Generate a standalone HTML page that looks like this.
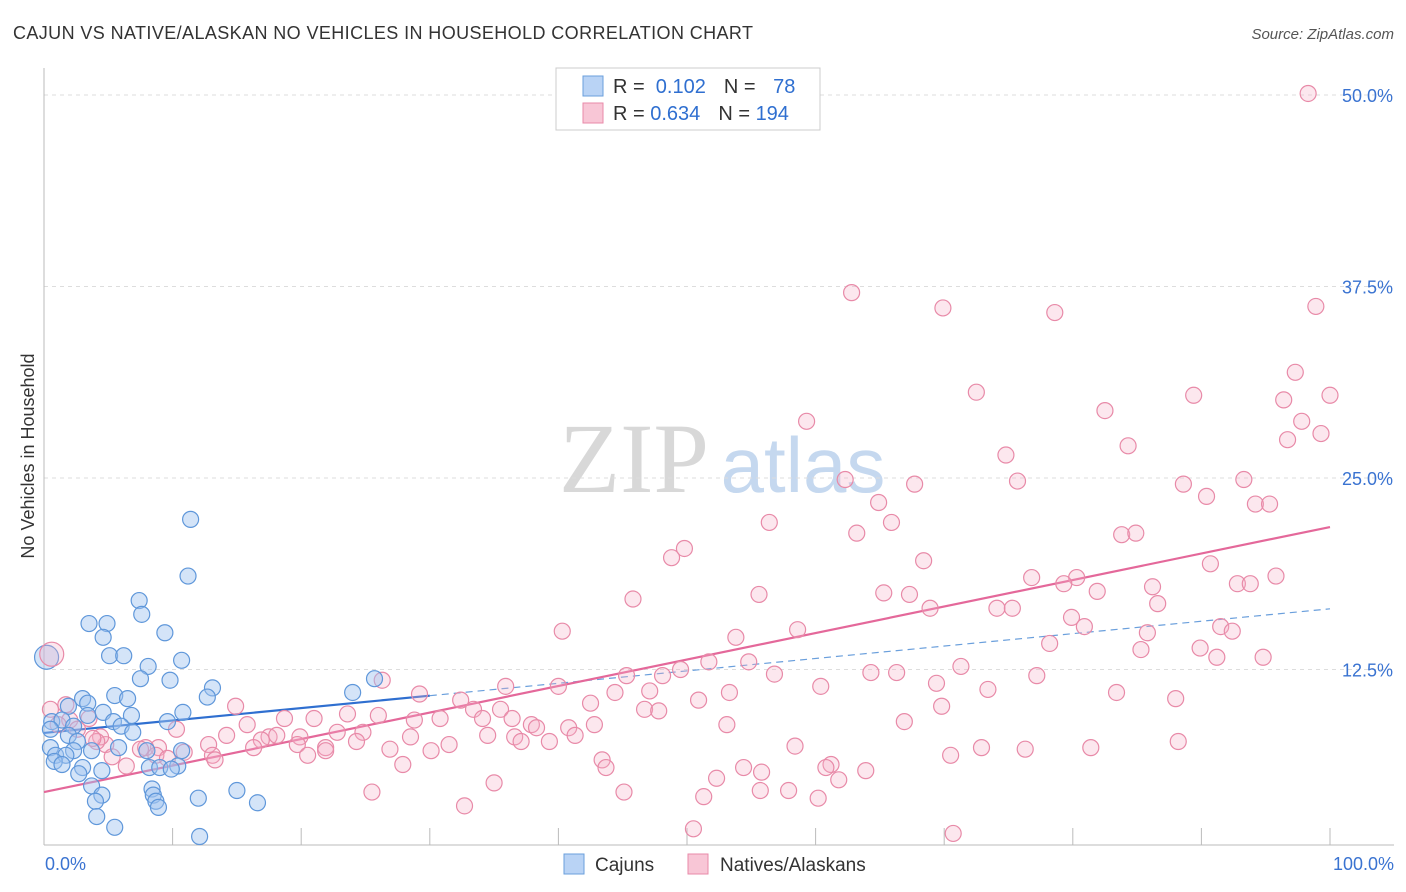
<!DOCTYPE html>
<html><head><meta charset="utf-8">
<style>
body{margin:0;background:#fff;font-family:"Liberation Sans",sans-serif;}
#wrap{position:relative;width:1406px;height:892px;overflow:hidden;}
</style></head>
<body>
<div id="wrap">
<svg id="svg" width="1406" height="892" xmlns="http://www.w3.org/2000/svg">
<text x="13" y="39" font-size="18" fill="#333" textLength="740">CAJUN VS NATIVE/ALASKAN NO VEHICLES IN HOUSEHOLD CORRELATION CHART</text>
<text x="1394" y="39" font-size="15" fill="#555" font-style="italic" text-anchor="end">Source: ZipAtlas.com</text>
<text x="34" y="456" font-size="18" fill="#333" text-anchor="middle" transform="rotate(-90 34 456)">No Vehicles in Household</text>
<g>
<text x="634" y="492" font-size="100" fill="#d8d8d8" font-family="Liberation Serif,serif" text-anchor="middle">ZIP</text>
<text x="803" y="492" font-size="78" fill="#c5d8ef" text-anchor="middle">atlas</text>
</g>
<g id="grid"></g>
<g id="lines"></g>
<g id="pts"></g>
<g>
<rect x="556" y="68" width="264" height="62" fill="#fff" stroke="#ccc"/>
<rect x="583" y="76" width="20" height="20" fill="#b9d3f5" stroke="#6a9fdc"/>
<rect x="583" y="103" width="20" height="20" fill="#f8c6d6" stroke="#e88aa8"/>
<text x="613" y="93" font-size="20" fill="#333">R = <tspan fill="#2f6fd0">&#160;0.102</tspan><tspan dx="18">N = </tspan><tspan fill="#2f6fd0" dx="12">78</tspan></text>
<text x="613" y="120" font-size="20" fill="#333">R = <tspan fill="#2f6fd0">0.634</tspan><tspan dx="18">N = </tspan><tspan fill="#2f6fd0">194</tspan></text>
</g>
<g>
<rect x="564" y="854" width="20" height="20" fill="#b9d3f5" stroke="#6a9fdc"/>
<text x="595" y="871" font-size="19" fill="#333">Cajuns</text>
<rect x="688" y="854" width="20" height="20" fill="#f8c6d6" stroke="#e88aa8"/>
<text x="720" y="871" font-size="19" fill="#333">Natives/Alaskans</text>
</g>
</svg>
</div>
<script>
const yTicks=[12.5,25.0,37.5,50.0];
const xTickLabels=["0.0%","100.0%"];
const blueX=[11.4,11.2,7.4,7.6,3.5,4.9,4.6,9.4,5.1,6.2,10.7,8.1,7.5,9.8,25.7,13.1,24.0,12.7,5.5,6.5,3.0,3.4,1.9,10.8,4.6,6.8,3.4,0.6,1.4,5.4,9.6,6.0,2.3,0.5,6.9,1.9,2.6,5.8,3.7,0.5,10.7,8.0,2.3,0.9,1.7,0.8,1.4,3.0,10.4,8.2,9.0,9.9,4.5,2.7,3.7,8.4,8.5,4.5,15.0,12.0,16.6,4.0,8.7,8.9,4.1,5.5,12.1];
const blueY=[22.3,18.6,17.0,16.1,15.5,15.5,14.6,14.9,13.4,13.4,13.1,12.7,11.9,11.8,11.9,11.3,11.0,10.7,10.8,10.6,10.6,10.3,10.1,9.7,9.7,9.5,9.5,9.1,9.2,9.1,9.1,8.8,8.8,8.6,8.4,8.2,7.8,7.4,7.2,7.4,7.2,7.2,7.2,6.9,6.9,6.5,6.3,6.1,6.2,6.1,6.1,6.0,5.9,5.7,4.9,4.7,4.3,4.3,4.6,4.1,3.8,3.9,3.9,3.5,2.9,2.2,1.6];
const pinkX=[98.3,62.8,69.9,78.6,98.9,72.5,97.3,89.4,96.4,100,59.3,82.5,97.8,84.3,96.7,99.3,74.8,62.3,67.7,75.7,88.6,93.3,64.9,90.4,94.2,95.3,56.4,65.9,63.2,83.8,84.9,49.8,48.8,68.4,90.7,76.8,80.3,95.8,79.3,86.2,92.8,93.8,45.8,55.6,65.3,67.3,81.9,86.6,68.9,74.1,75.3,79.9,80.9,91.5,92.4,40.3,58.6,53.8,85.8,78.2,85.3,89.9,91.2,94.8,51.7,54.8,71.3,26.3,45.3,48.1,49.5,56.8,64.3,66.3,77.2,69.4,60.4,35.9,40.0,47.1,29.2,44.4,73.4,53.3,83.4,88.0,32.4,42.5,50.9,69.8,46.7,14.9,35.5,47.8,33.4,23.6,26.0,18.7,21.0,30.8,34.1,36.4,15.8,28.8,37.9,42.8,53.1,66.9,38.3,40.8,34.5,19.9,22.8,24.8,28.5,36.6,37.1,41.3,14.2,17.5,18.1,16.9,39.3,24.3,10.3,4.8,4.4,12.8,19.7,21.9,31.5,30.1,26.9,21.9,20.5,16.3,13.1,8.9,7.9,7.5,58.4,72.9,76.3,81.4,88.2,70.5,10.9,8.7,9.6,13.3,6.4,27.9,43.4,43.7,61.2,60.8,54.4,55.8,52.3,61.8,63.9,35.0,25.5,45.1,55.7,57.9,51.3,60.2,32.7,50.5,70.7,4.1,5.3,3.5,2.0,0.5,1.1,2.6,3.8,1.7];
const pinkY=[50.1,37.1,36.1,35.8,36.2,30.6,31.9,30.4,30.1,30.4,28.7,29.4,28.7,27.1,27.5,27.9,26.5,24.9,24.6,24.8,24.6,24.9,23.4,23.8,23.3,23.3,22.1,22.1,21.4,21.3,21.4,20.4,19.8,19.6,19.4,18.5,18.5,18.6,18.1,17.9,18.1,18.1,17.1,17.4,17.5,17.4,17.6,16.8,16.5,16.5,16.5,15.9,15.3,15.3,15.0,15.0,15.1,14.6,14.9,14.2,13.8,13.9,13.3,13.3,13.0,13.0,12.7,11.8,12.1,12.1,12.5,12.2,12.3,12.3,12.1,11.6,11.4,11.4,11.4,11.1,10.9,11.0,11.2,11.0,11.0,10.6,10.5,10.3,10.5,10.1,9.9,10.1,9.9,9.8,9.9,9.6,9.5,9.3,9.3,9.3,9.3,9.3,8.9,9.2,8.9,8.9,8.9,9.1,8.7,8.7,8.2,8.1,8.4,8.4,8.1,8.1,7.8,8.2,8.2,8.1,8.2,7.9,7.8,7.8,8.6,7.6,8.1,7.6,7.6,7.4,7.6,7.2,7.3,7.2,6.9,7.4,6.9,7.4,7.4,7.3,7.5,7.4,7.3,7.4,7.8,6.9,7.1,6.9,6.7,6.6,6.2,6.3,6.6,6.1,6.3,6.1,6.1,5.8,5.4,5.3,5.9,5.1,4.5,4.5,4.6,4.6,4.2,4.1,3.6,2.1,1.8,7.8,6.8,9.3,9.2,9.9,8.9,8.6,8.0,10.2];
const bigPts=[{s:'blue',x:0.2,y:13.3},{s:'pink',x:0.6,y:13.5}];
const blueFit=[8.36,0.081];
const pinkFit=[4.5,0.173];
const X0=44,X1=1330,Y0=861,PY=15.32;
function sx(v){return X0+(X1-X0)*v/100;}
function sy(v){return Y0-v*PY;}
const NS="http://www.w3.org/2000/svg";
function mk(tag,at,parent){const e=document.createElementNS(NS,tag);for(const k in at)e.setAttribute(k,at[k]);parent.appendChild(e);return e;}
const grid=document.getElementById('grid');
yTicks.forEach(t=>{
 const l=mk('line',{x1:44,x2:1394,y1:sy(t),y2:sy(t),stroke:'#ddd','stroke-dasharray':'4,4'},grid);
 
 
 const tx=mk('text',{x:1393,y:sy(t)+7,'font-size':18,fill:'#3a73d1','text-anchor':'end'},grid);
 tx.textContent=t.toFixed(1)+'%';
 
 
});
const ax=mk('line',{x1:44,x2:1394,y1:845,y2:845,stroke:'#bbb'},grid);


const ay=mk('line',{x1:44,x2:44,y1:68,y2:845,stroke:'#bbb'},grid);


for(let i=0;i<=10;i++){
 const t=mk('line',{x1:sx(i*10),x2:sx(i*10),y1:828,y2:845,stroke:'#bbb'},grid);
 
 
}
[[0,'start',45],[1,'end',1394]].forEach(([i,a,x])=>{
 const tx=mk('text',{x:x,y:870,'font-size':18,fill:'#3a73d1','text-anchor':a},grid);
 tx.textContent=xTickLabels[i];
 
 
});
const pts=document.getElementById('pts');
function dot(x,y,s,r){
 const c=mk('circle',{cx:sx(x),cy:sy(y),r:r,fill:s=='blue'?'rgba(160,195,240,0.45)':'rgba(245,175,200,0.3)',stroke:s=='blue'?'#5f97da':'#e88aa8','stroke-width':1.2},pts);
 
 
}
pinkX.forEach((x,i)=>dot(x,pinkY[i],'pink',8));
blueX.forEach((x,i)=>dot(x,blueY[i],'blue',8));
bigPts.forEach(p=>dot(p.x,p.y,p.s,12));
const lines=document.getElementById('lines');
const fb=v=>blueFit[0]+blueFit[1]*v, fp=v=>pinkFit[0]+pinkFit[1]*v;
const b1=mk('line',{x1:sx(0),y1:sy(fb(0)),x2:sx(30),y2:sy(fb(30)),stroke:'#2f6fd0','stroke-width':2.2},lines);


const b2=mk('line',{x1:sx(30),y1:sy(fb(30)),x2:sx(100),y2:sy(fb(100)),stroke:'#6a9fdc','stroke-width':1.2,'stroke-dasharray':'7,5'},lines);


const p1=mk('line',{x1:sx(0),y1:sy(fp(0)),x2:sx(100),y2:sy(fp(100)),stroke:'#e4689a','stroke-width':2.2},lines);


</script>
</body></html>
